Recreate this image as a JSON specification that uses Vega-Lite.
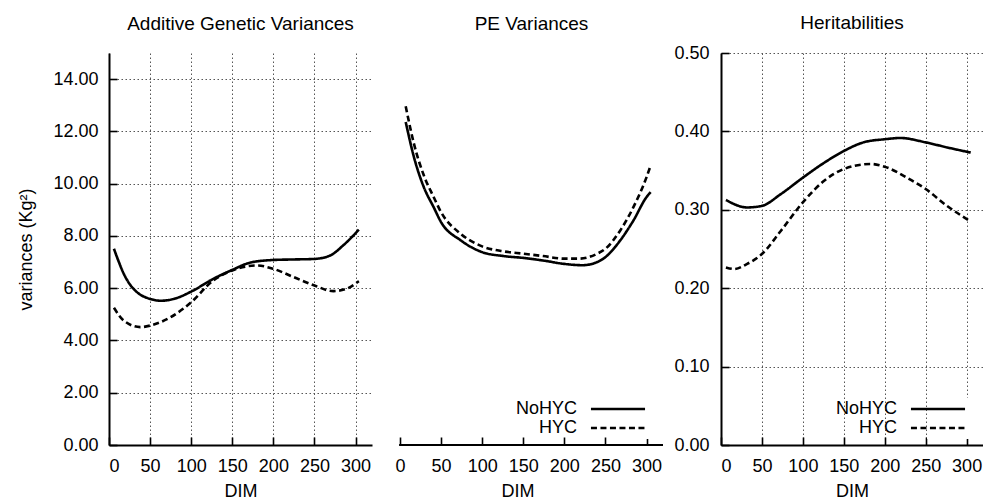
{
  "$schema": "https://vega.github.io/schema/vega-lite/v6.json",
  "padding": {"left": 17, "top": 14, "right": 0, "bottom": 0},
  "background": "white",
  "datasets": {
    "curves": [
      {"panel": "A", "series": "NoHYC", "DIM": 6, "value": 7.51},
      {"panel": "A", "series": "NoHYC", "DIM": 12, "value": 7.0},
      {"panel": "A", "series": "NoHYC", "DIM": 18, "value": 6.55},
      {"panel": "A", "series": "NoHYC", "DIM": 26, "value": 6.12},
      {"panel": "A", "series": "NoHYC", "DIM": 34, "value": 5.85},
      {"panel": "A", "series": "NoHYC", "DIM": 50, "value": 5.59},
      {"panel": "A", "series": "NoHYC", "DIM": 63, "value": 5.52},
      {"panel": "A", "series": "NoHYC", "DIM": 79, "value": 5.59},
      {"panel": "A", "series": "NoHYC", "DIM": 100, "value": 5.87},
      {"panel": "A", "series": "NoHYC", "DIM": 127, "value": 6.36},
      {"panel": "A", "series": "NoHYC", "DIM": 150, "value": 6.7},
      {"panel": "A", "series": "NoHYC", "DIM": 172, "value": 6.98},
      {"panel": "A", "series": "NoHYC", "DIM": 200, "value": 7.08},
      {"panel": "A", "series": "NoHYC", "DIM": 225, "value": 7.1},
      {"panel": "A", "series": "NoHYC", "DIM": 250, "value": 7.12},
      {"panel": "A", "series": "NoHYC", "DIM": 269, "value": 7.25},
      {"panel": "A", "series": "NoHYC", "DIM": 285, "value": 7.64},
      {"panel": "A", "series": "NoHYC", "DIM": 304, "value": 8.24},
      {"panel": "A", "series": "HYC", "DIM": 6, "value": 5.25},
      {"panel": "A", "series": "HYC", "DIM": 18, "value": 4.76},
      {"panel": "A", "series": "HYC", "DIM": 38, "value": 4.51},
      {"panel": "A", "series": "HYC", "DIM": 50, "value": 4.57},
      {"panel": "A", "series": "HYC", "DIM": 75, "value": 4.89},
      {"panel": "A", "series": "HYC", "DIM": 100, "value": 5.46},
      {"panel": "A", "series": "HYC", "DIM": 127, "value": 6.3},
      {"panel": "A", "series": "HYC", "DIM": 150, "value": 6.68},
      {"panel": "A", "series": "HYC", "DIM": 180, "value": 6.87},
      {"panel": "A", "series": "HYC", "DIM": 200, "value": 6.74},
      {"panel": "A", "series": "HYC", "DIM": 225, "value": 6.42},
      {"panel": "A", "series": "HYC", "DIM": 250, "value": 6.1},
      {"panel": "A", "series": "HYC", "DIM": 273, "value": 5.89},
      {"panel": "A", "series": "HYC", "DIM": 289, "value": 5.98},
      {"panel": "A", "series": "HYC", "DIM": 304, "value": 6.27},
      {"panel": "B", "series": "NoHYC", "DIM": 7, "value": 12.36},
      {"panel": "B", "series": "NoHYC", "DIM": 17, "value": 11.02},
      {"panel": "B", "series": "NoHYC", "DIM": 29, "value": 9.87},
      {"panel": "B", "series": "NoHYC", "DIM": 41, "value": 9.1},
      {"panel": "B", "series": "NoHYC", "DIM": 50, "value": 8.53},
      {"panel": "B", "series": "NoHYC", "DIM": 74, "value": 7.83},
      {"panel": "B", "series": "NoHYC", "DIM": 100, "value": 7.38},
      {"panel": "B", "series": "NoHYC", "DIM": 126, "value": 7.23},
      {"panel": "B", "series": "NoHYC", "DIM": 150, "value": 7.16},
      {"panel": "B", "series": "NoHYC", "DIM": 174, "value": 7.06},
      {"panel": "B", "series": "NoHYC", "DIM": 200, "value": 6.93},
      {"panel": "B", "series": "NoHYC", "DIM": 222, "value": 6.88},
      {"panel": "B", "series": "NoHYC", "DIM": 240, "value": 7.0},
      {"panel": "B", "series": "NoHYC", "DIM": 250, "value": 7.19},
      {"panel": "B", "series": "NoHYC", "DIM": 268, "value": 7.83},
      {"panel": "B", "series": "NoHYC", "DIM": 284, "value": 8.59},
      {"panel": "B", "series": "NoHYC", "DIM": 300, "value": 9.49},
      {"panel": "B", "series": "NoHYC", "DIM": 305, "value": 9.68},
      {"panel": "B", "series": "HYC", "DIM": 7, "value": 12.96},
      {"panel": "B", "series": "HYC", "DIM": 17, "value": 11.53},
      {"panel": "B", "series": "HYC", "DIM": 29, "value": 10.32},
      {"panel": "B", "series": "HYC", "DIM": 41, "value": 9.49},
      {"panel": "B", "series": "HYC", "DIM": 50, "value": 8.91},
      {"panel": "B", "series": "HYC", "DIM": 74, "value": 8.08},
      {"panel": "B", "series": "HYC", "DIM": 100, "value": 7.6},
      {"panel": "B", "series": "HYC", "DIM": 126, "value": 7.41},
      {"panel": "B", "series": "HYC", "DIM": 150, "value": 7.32},
      {"panel": "B", "series": "HYC", "DIM": 174, "value": 7.23},
      {"panel": "B", "series": "HYC", "DIM": 200, "value": 7.13},
      {"panel": "B", "series": "HYC", "DIM": 218, "value": 7.13},
      {"panel": "B", "series": "HYC", "DIM": 240, "value": 7.32},
      {"panel": "B", "series": "HYC", "DIM": 250, "value": 7.51},
      {"panel": "B", "series": "HYC", "DIM": 268, "value": 8.21},
      {"panel": "B", "series": "HYC", "DIM": 284, "value": 9.1},
      {"panel": "B", "series": "HYC", "DIM": 300, "value": 10.25},
      {"panel": "B", "series": "HYC", "DIM": 305, "value": 10.7},
      {"panel": "C", "series": "NoHYC", "DIM": 6, "value": 0.3125},
      {"panel": "C", "series": "NoHYC", "DIM": 32, "value": 0.303},
      {"panel": "C", "series": "NoHYC", "DIM": 50, "value": 0.305},
      {"panel": "C", "series": "NoHYC", "DIM": 73, "value": 0.32},
      {"panel": "C", "series": "NoHYC", "DIM": 100, "value": 0.341},
      {"panel": "C", "series": "NoHYC", "DIM": 126, "value": 0.36},
      {"panel": "C", "series": "NoHYC", "DIM": 150, "value": 0.375},
      {"panel": "C", "series": "NoHYC", "DIM": 174, "value": 0.386},
      {"panel": "C", "series": "NoHYC", "DIM": 200, "value": 0.39},
      {"panel": "C", "series": "NoHYC", "DIM": 219, "value": 0.3916},
      {"panel": "C", "series": "NoHYC", "DIM": 250, "value": 0.386},
      {"panel": "C", "series": "NoHYC", "DIM": 276, "value": 0.3796},
      {"panel": "C", "series": "NoHYC", "DIM": 305, "value": 0.373},
      {"panel": "C", "series": "HYC", "DIM": 6, "value": 0.2265},
      {"panel": "C", "series": "HYC", "DIM": 16, "value": 0.2245},
      {"panel": "C", "series": "HYC", "DIM": 32, "value": 0.231},
      {"panel": "C", "series": "HYC", "DIM": 50, "value": 0.2436},
      {"panel": "C", "series": "HYC", "DIM": 73, "value": 0.273},
      {"panel": "C", "series": "HYC", "DIM": 100, "value": 0.3095},
      {"panel": "C", "series": "HYC", "DIM": 126, "value": 0.337},
      {"panel": "C", "series": "HYC", "DIM": 150, "value": 0.352},
      {"panel": "C", "series": "HYC", "DIM": 183, "value": 0.3584},
      {"panel": "C", "series": "HYC", "DIM": 200, "value": 0.355},
      {"panel": "C", "series": "HYC", "DIM": 227, "value": 0.341},
      {"panel": "C", "series": "HYC", "DIM": 250, "value": 0.3265},
      {"panel": "C", "series": "HYC", "DIM": 276, "value": 0.305},
      {"panel": "C", "series": "HYC", "DIM": 305, "value": 0.285}
    ]
  },
  "config": {
    "view": {"stroke": null},
    "font": "Liberation Sans",
    "axis": {
      "domainColor": "black", "domainWidth": 2,
      "tickColor": "black", "tickWidth": 1.6, "tickSize": -8,
      "labelFont": "Liberation Sans", "labelFontSize": 18, "labelColor": "black",
      "titleFont": "Liberation Sans", "titleFontSize": 18, "titleFontWeight": "normal", "titleColor": "black",
      "gridColor": "#555555", "gridDash": [1.5, 2.5], "gridWidth": 1, "gridOpacity": 1
    },
    "title": {"font": "Liberation Sans", "fontSize": 19, "fontWeight": "normal", "color": "black", "anchor": "middle", "baseline": "bottom", "offset": 19}
  },
  "hconcat": [
    {
      "width": 263, "height": 392,
      "title": {"text": "Additive Genetic Variances"},
      "data": {"name": "curves"},
      "transform": [{"filter": "datum.panel == 'A'"}],
      "mark": {"type": "line", "color": "black", "strokeWidth": 2.6, "interpolate": "monotone"},
      "encoding": {
        "x": {"field": "DIM", "type": "quantitative", "scale": {"domain": [0, 320], "nice": false}, "axis": {"values": [0, 50, 100, 150, 200, 250, 300], "title": "DIM", "labelPadding": 20, "titlePadding": 7}},
        "y": {"field": "value", "type": "quantitative", "scale": {"domain": [0, 15], "nice": false}, "axis": {"values": [0, 2, 4, 6, 8, 10, 12, 14], "format": ".2f", "title": "variances (Kg²)", "labelPadding": 19, "titlePadding": 17}},
        "strokeDash": {"field": "series", "type": "nominal", "scale": {"domain": ["NoHYC", "HYC"], "range": [[1, 0], [6, 3.5]]}, "legend": null}
      }
    },
    {
      "width": 291, "height": 392,
      "title": {"text": "PE Variances", "dx": 14},
      "data": {"name": "curves"},
      "transform": [{"filter": "datum.panel == 'B'"}],
      "layer": [
        {
          "mark": {"type": "rule", "color": "black", "strokeWidth": 2},
          "encoding": {
            "x": {"datum": 0},
            "x2": {"datum": 320},
            "y": {"datum": 0}
          }
        },
        {
          "mark": {"type": "line", "color": "black", "strokeWidth": 2.6, "interpolate": "monotone"},
          "encoding": {
            "x": {"field": "DIM", "type": "quantitative", "scale": {"domain": [-34, 320], "nice": false}, "axis": {"values": [0, 50, 100, 150, 200, 250, 300], "title": "DIM", "labelPadding": 20, "titlePadding": 7, "domain": false}},
            "y": {"field": "value", "type": "quantitative", "scale": {"domain": [0, 15], "nice": false}, "axis": {"values": [0, 2, 4, 6, 8, 10, 12, 14], "labels": false, "ticks": false, "domain": false, "title": null}},
            "strokeDash": {"field": "series", "type": "nominal", "scale": {"domain": ["NoHYC", "HYC"], "range": [[1, 0], [6, 3.5]]},
              "legend": {"orient": "none", "legendX": 235, "legendY": 345, "title": null, "symbolType": "M-5,0L5,0", "symbolSize": 117, "symbolStrokeColor": "black", "symbolStrokeWidth": 2.5, "labelAlign": "right", "labelOffset": -50, "labelFontSize": 18, "labelFont": "Liberation Sans", "labelColor": "black", "rowPadding": 1, "padding": 2, "fillColor": "white"}}
          }
        }
      ]
    },
    {
      "width": 58, "height": 392,
      "data": {"values": []},
      "mark": {"type": "point", "opacity": 0}
    },
    {
      "width": 262, "height": 392,
      "title": {"text": "Heritabilities", "dy": 8},
      "data": {"name": "curves"},
      "transform": [{"filter": "datum.panel == 'C'"}],
      "mark": {"type": "line", "color": "black", "strokeWidth": 2.6, "interpolate": "monotone"},
      "encoding": {
        "x": {"field": "DIM", "type": "quantitative", "scale": {"domain": [0, 320], "nice": false}, "axis": {"values": [0, 50, 100, 150, 200, 250, 300], "title": "DIM", "labelPadding": 20, "titlePadding": 7}},
        "y": {"field": "value", "type": "quantitative", "scale": {"domain": [0, 0.5], "nice": false}, "axis": {"values": [0, 0.1, 0.2, 0.3, 0.4, 0.5], "format": ".2f", "title": null, "labelPadding": 20}},
        "strokeDash": {"field": "series", "type": "nominal", "scale": {"domain": ["NoHYC", "HYC"], "range": [[1, 0], [6, 3.5]]},
          "legend": {"orient": "none", "legendX": 206, "legendY": 345, "title": null, "symbolType": "M-5,0L5,0", "symbolSize": 117, "symbolStrokeColor": "black", "symbolStrokeWidth": 2.5, "labelAlign": "right", "labelOffset": -50, "labelFontSize": 18, "labelFont": "Liberation Sans", "labelColor": "black", "rowPadding": 1, "padding": 2, "fillColor": "white"}}
      }
    }
  ],
  "spacing": 0,
  "bounds": "flush",
  "resolve": {"scale": {"x": "independent", "y": "independent", "strokeDash": "independent"}, "legend": {"strokeDash": "independent"}}
}
